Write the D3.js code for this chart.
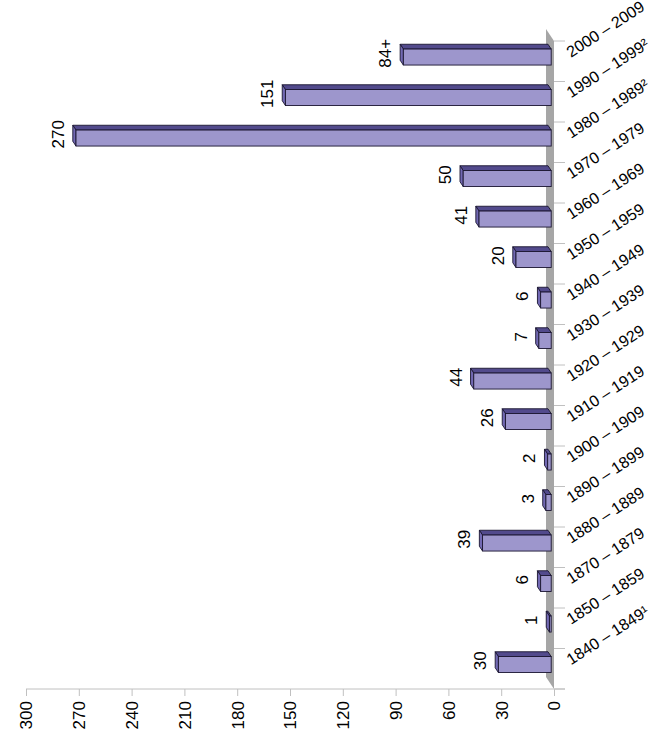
<!DOCTYPE html>
<html>
<head>
<meta charset="utf-8">
<style>
  body { margin: 0; background: #fff; }
  text { font-family: Arial, "Liberation Sans", sans-serif; font-size: 17px; fill: #000; }
  text.cat { font-size: 16px; }
</style>
</head>
<body>
<svg width="654" height="746"></svg>
<script src="https://d3js.org/d3.v7.min.js"></script>
<script>

// chronological, bottom to top
var periods = ["1840 – 1849¹", "1850 – 1859", "1870 – 1879", "1880 – 1889", "1890 – 1899",
    "1900 – 1909", "1910 – 1919", "1920 – 1929", "1930 – 1939", "1940 – 1949",
    "1950 – 1959", "1960 – 1969", "1970 – 1979", "1980 – 1989²", "1990 – 1999²", "2000 – 2009"];
var counts = [30, 1, 6, 39, 3, 2, 26, 44, 7, 6, 20, 41, 50, 270, 151, 84];
var countLabels = ["30", "1", "6", "39", "3", "2", "26", "44", "7", "6", "20", "41", "50", "270", "151", "84+"];
var valueTicks = [0, 30, 60, 90, 120, 150, 180, 210, 240, 270, 300];

var svg = d3.select("svg");

var x = d3.scaleLinear()
    .domain([0, 300])
    .range([554, 26]);

var y = d3.scaleBand()
    .domain(periods)
    .range([689, 41]);

var x0 = x(0),
    depth = [-8, -12],       // floor depth vector
    front = 0.35, back = 0.75, // bar position along depth
    barH = 16;

// floor (drawn as a wall after rotation)
svg.append("path")
    .attr("fill", "#a6a6a6")
    .attr("d", d3.line()([
      [x0, y.range()[1]], [x0, y.range()[0]],
      [x0 + depth[0], y.range()[0] + depth[1]], [x0 + depth[0], y.range()[1] + depth[1]]
    ]));

// value axis
var axis = svg.append("g")
    .attr("transform", "translate(0,689)")
    .call(d3.axisBottom(x).tickValues(valueTicks).tickSizeInner(7).tickSizeOuter(0));

axis.attr("font-size", null).attr("font-family", null);
axis.select(".domain").remove();
axis.selectAll("line").attr("stroke", "#c0c0c0");
axis.selectAll("text")
    .attr("transform", "rotate(-90)")
    .attr("x", -12)
    .attr("y", 0)
    .attr("dy", "0.35em")
    .attr("text-anchor", "end");

svg.append("line")
    .attr("x1", x(300)).attr("x2", x0 + 11)
    .attr("y1", 689).attr("y2", 689)
    .attr("stroke", "#c0c0c0");

// category tick marks at band boundaries
var bounds = periods.map(function(p) { return y(p); }).concat([y.range()[0]]);
svg.selectAll(".ctick")
  .data(bounds)
  .enter().append("line")
    .attr("class", "ctick")
    .attr("x1", x0).attr("x2", x0 + 11)
    .attr("y1", function(d) { return d; })
    .attr("y2", function(d) { return d; })
    .attr("stroke", "#c0c0c0");

// bars
var fdx = depth[0] * front, fdy = depth[1] * front,
    bdx = depth[0] * back, bdy = depth[1] * back;

var bars = svg.selectAll(".bar")
  .data(periods.map(function(p, i) { return {p: p, v: counts[i], label: countLabels[i]}; }))
  .enter().append("g")
    .attr("class", "bar");

function geom(d) {
  var c = y(d.p) + y.bandwidth() / 2;
  return {
    xl: x(d.v), xr: x0,
    yt: c - barH / 2, yb: c + barH / 2, c: c
  };
}

bars.append("path")
    .attr("fill", "#524a8c")
    .attr("stroke", "#1a1530")
    .attr("stroke-width", 0.9)
    .attr("stroke-linejoin", "round")
    .attr("d", function(d) {
      var g = geom(d);
      return d3.line()([
        [g.xl + fdx, g.yt + fdy], [g.xr + fdx, g.yt + fdy],
        [g.xr + bdx, g.yt + bdy], [g.xl + bdx, g.yt + bdy]
      ]) + "Z";
    });

bars.append("path")
    .attr("fill", "#7269b3")
    .attr("stroke", "#1a1530")
    .attr("stroke-width", 0.9)
    .attr("stroke-linejoin", "round")
    .attr("d", function(d) {
      var g = geom(d);
      return d3.line()([
        [g.xl + fdx, g.yt + fdy], [g.xl + fdx, g.yb + fdy],
        [g.xl + bdx, g.yb + bdy], [g.xl + bdx, g.yt + bdy]
      ]) + "Z";
    });

bars.append("rect")
    .attr("fill", "#9d96cc")
    .attr("stroke", "#1a1530")
    .attr("stroke-width", 0.9)
    .attr("x", function(d) { return geom(d).xl + fdx; })
    .attr("y", function(d) { return geom(d).yt + fdy; })
    .attr("width", function(d) { return x0 - x(d.v); })
    .attr("height", barH);

// value labels
bars.append("text")
    .attr("text-anchor", "middle")
    .attr("dy", "0.35em")
    .attr("transform", function(d) {
      var g = geom(d);
      return "translate(" + (g.xl - 21) + "," + (g.c - 8) + ") rotate(-90)";
    })
    .text(function(d) { return d.label; });

// category labels
svg.selectAll(".cat")
  .data(periods)
  .enter().append("text")
    .attr("class", "cat")
    .attr("text-anchor", "start")
    .attr("dy", "0.35em")
    .attr("transform", function(d) {
      return "translate(568," + (y(d) + y.bandwidth() / 2 - 8) + ") rotate(-33)";
    })
    .text(function(d) { return d; });

</script>
</body>
</html>
